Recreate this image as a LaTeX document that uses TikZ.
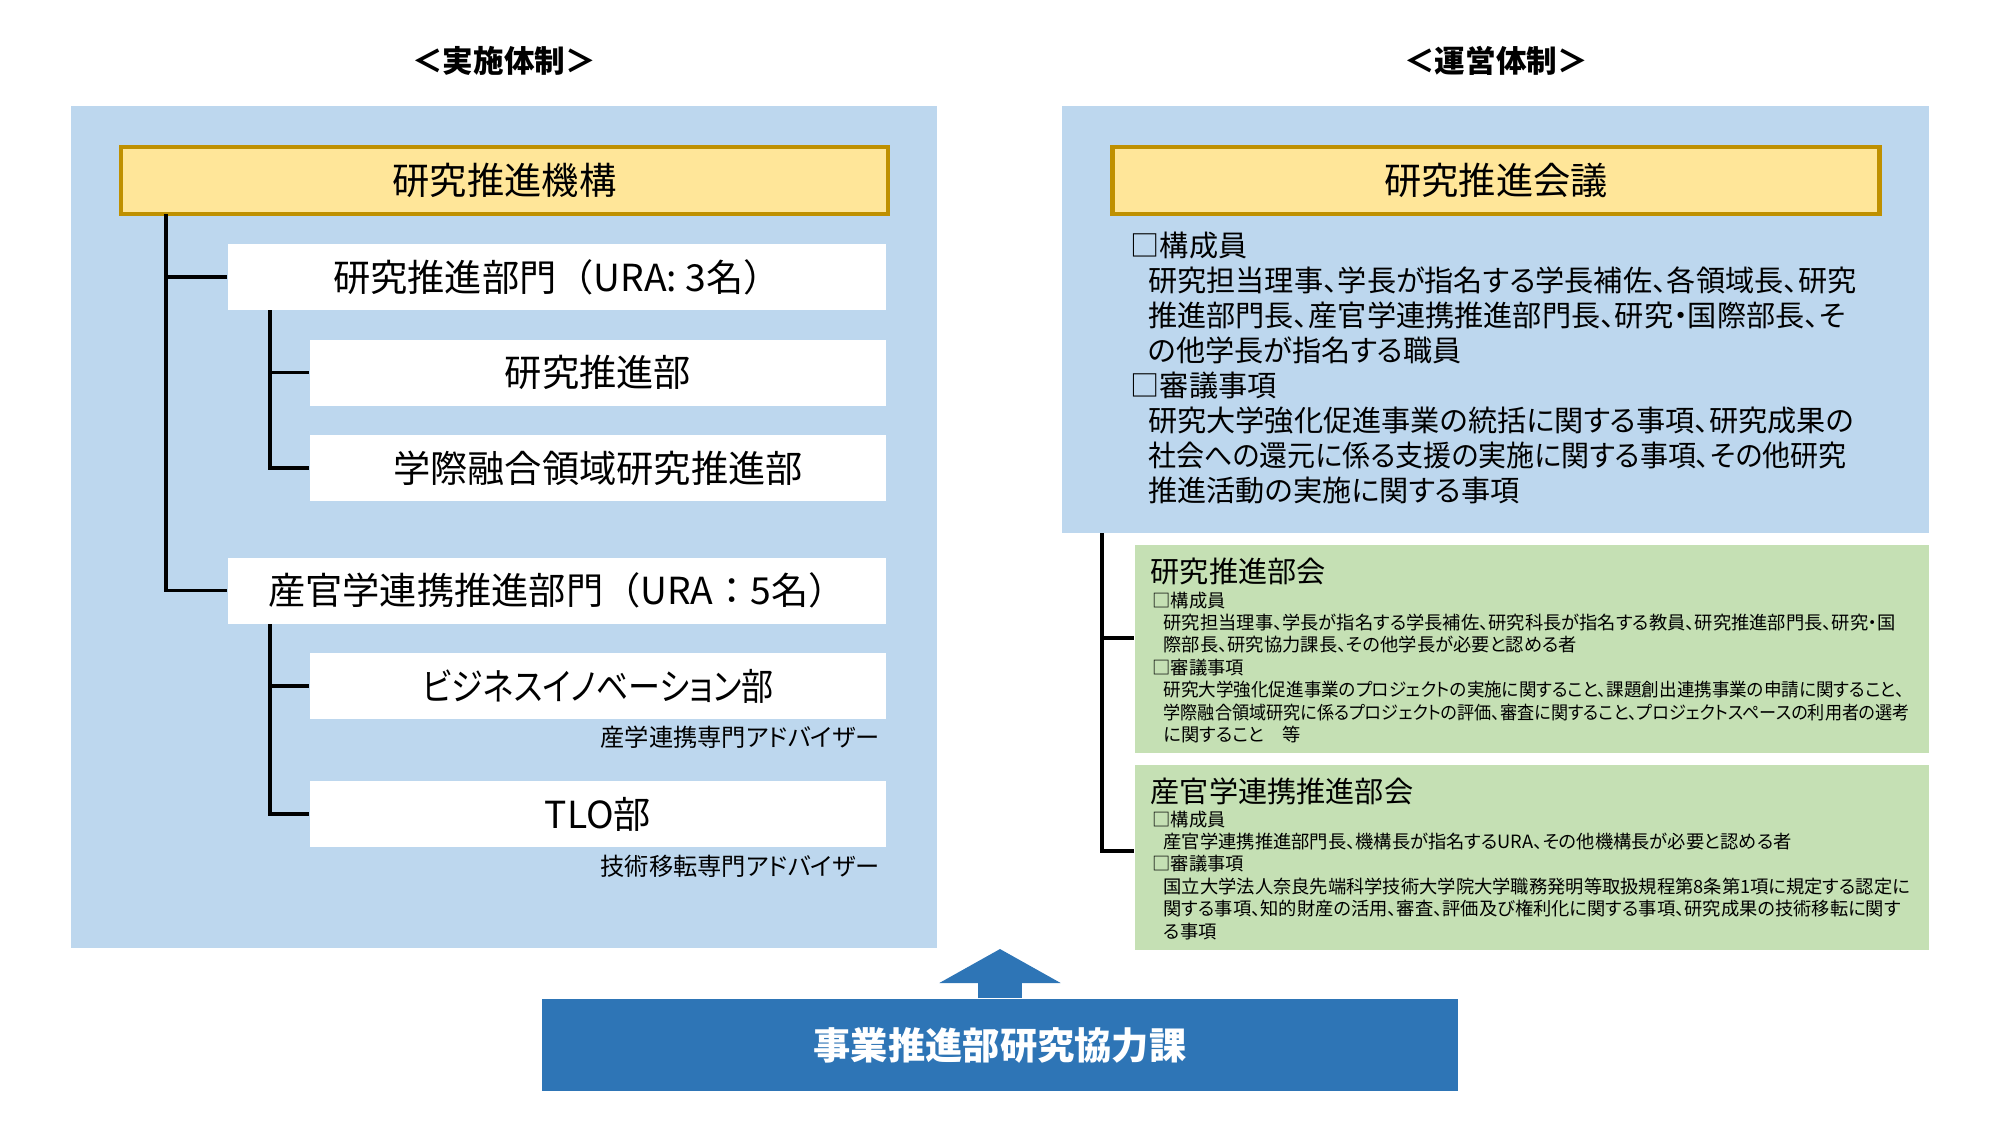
\documentclass[tikz,border=0pt]{standalone}
\usepackage{fontspec}
\setmainfont{Noto Sans CJK JP}[RawFeature=+palt]
\newfontfamily\jpzen{Noto Sans CJK JP}
\definecolor{aok}{HTML}{BDD7EE}
\definecolor{kik}{HTML}{FFE699}
\definecolor{kinwakuk}{HTML}{BF9000}
\definecolor{midorik}{HTML}{C5E0B4}
\definecolor{koiaok}{HTML}{2E75B6}
\usepackage{tikz}
\usetikzlibrary{positioning, arrows.meta}
\newcommand{\ind}{\hspace*{0.6em}}

\begin{document}
\begin{tikzpicture}[
    panel/.style={fill=aok,inner sep=0pt},
    kibox/.style={draw=kinwakuk,line width=1.2pt,fill=kik,minimum width=7.67cm,
          minimum height=0.67cm,font=\fontsize{10.6}{12}\selectfont},
    shirobox/.style={fill=white,minimum height=0.66cm,font=\fontsize{10.6}{12}\selectfont},
    midoribox/.style={fill=midorik,minimum width=7.94cm,inner sep=0pt},
    tree/.style={line width=1pt,black},
    honbun/.style={align=left,anchor=north west,inner sep=0pt}]
    \useasboundingbox (0,0) rectangle (20,-11.25);

    \node[font=\fontsize{8.7}{10}\selectfont\bfseries] (tl) at (5.04,-0.61) {＜実施体制＞};
    \node[font=\fontsize{8.7}{10}\selectfont\bfseries] (tr) at (14.96,-0.61) {＜運営体制＞};

    \node[panel,minimum width=8.66cm,minimum height=8.42cm] (jp) at (5.04,-5.27) {};
    \node[panel,minimum width=8.67cm,minimum height=4.27cm] (un) at (14.955,-3.195) {};

    \node[kibox] (kikou) at (5.045,-1.805) {研究推進機構};
    \node[kibox] (kaigi) at (14.96,-1.805) {研究推進会議};

    \node[shirobox,minimum width=6.58cm] (bu1) at (5.57,-2.77) {\jpzen 研究推進部門（URA: 3名）};
    \node[shirobox,minimum width=5.76cm] (ka1) at (5.98,-3.725) {研究推進部};
    \node[shirobox,minimum width=5.76cm] (ka2) at (5.98,-4.68) {学際融合領域研究推進部};
    \node[shirobox,minimum width=6.58cm] (bu2) at (5.57,-5.905) {\jpzen 産官学連携推進部門（URA：5名）};
    \node[shirobox,minimum width=5.76cm] (ka3) at (5.98,-6.86) {\scalebox{0.86}[1]{ビジネスイノベーション部}};
    \node[shirobox,minimum width=5.76cm] (ka4) at (5.98,-8.14) {TLO部};
    \node[anchor=east,inner sep=0pt,font=\fontsize{6.9}{8}\selectfont] (nt1) at (8.80,-7.37) {産学連携専門アドバイザー};
    \node[anchor=east,inner sep=0pt,font=\fontsize{6.9}{8}\selectfont] (nt2) at (8.80,-8.66) {技術移転専門アドバイザー};

    \coordinate (v1) at (1.66,-2.14);
    \coordinate (v2) at (2.70,-3.10);
    \coordinate (v3) at (2.70,-6.24);
    \coordinate (v4) at (11.02,-5.33);
    \draw[tree] (v1) |- (bu1.west);
    \draw[tree] (v1) |- (bu2.west);
    \draw[tree] (v2) |- (ka1.west);
    \draw[tree] (v2) |- (ka2.west);
    \draw[tree] (v3) |- (ka3.west);
    \draw[tree] (v3) |- (ka4.west);

    \node[honbun,font=\fontsize{8.3}{9.96}\selectfont] (b0) at (11.30,-2.31) {□構成員\\
      \ind 研究担当理事、学長が指名する学長補佐、各領域長、研究\\
      \ind 推進部門長、産官学連携推進部門長、研究・国際部長、そ\\
      \ind の他学長が指名する職員\\
      □審議事項\\
      \ind 研究大学強化促進事業の統括に関する事項、研究成果の\\
      \ind \scalebox{0.96}[1]{社会への還元に係る支援の実施に関する事項、その他研究}\\
      \ind 推進活動の実施に関する事項};

    \node[midoribox,minimum height=2.08cm] (g1) at (15.32,-6.49) {};
    \node[midoribox,minimum height=1.85cm] (g2) at (15.32,-8.575) {};
    \draw[tree] (v4) |- ([yshift=1.1mm]g1.west);
    \draw[tree] (v4) |- ([yshift=0.65mm]g2.west);

    \node[anchor=west,inner sep=0pt,font=\fontsize{8.3}{10}\selectfont] (h1) at (11.50,-5.71) {研究推進部会};
    \node[honbun,font=\fontsize{5.2}{6.38}\selectfont] (b1) at (11.52,-5.91) {□構成員\\
      \ind 研究担当理事、学長が指名する学長補佐、研究科長が指名する教員、研究推進部門長、研究・国\\
      \ind 際部長、研究協力課長、その他学長が必要と認める者\\
      □審議事項\\
      \ind \scalebox{0.96}[1]{研究大学強化促進事業のプロジェクトの実施に関すること、課題創出連携事業の申請に関すること、}\\
      \ind \scalebox{0.936}[1]{学際融合領域研究に係るプロジェクトの評価、審査に関すること、プロジェクトスペースの利用者の選考}\\
      \ind に関すること　等};

    \node[anchor=west,inner sep=0pt,font=\fontsize{8.3}{10}\selectfont] (h2) at (11.50,-7.91) {産官学連携推進部会};
    \node[honbun,font=\fontsize{5.2}{6.38}\selectfont] (b2) at (11.52,-8.10) {□構成員\\
      \ind 産官学連携推進部門長、機構長が指名するURA、その他機構長が必要と認める者\\
      □審議事項\\
      \ind 国立大学法人奈良先端科学技術大学院大学職務発明等取扱規程第8条第1項に規定する認定に\\
      \ind 関する事項、知的財産の活用、審査、評価及び権利化に関する事項、研究成果の技術移転に関す\\
      \ind る事項};

    \node[fill=koiaok,minimum width=9.16cm,minimum height=0.92cm,text=white,
          font=\fontsize{10.6}{12}\selectfont\bfseries] (bt) at (10.0,-10.45) {事業推進部研究協力課};
    \coordinate (tip) at (10.0,-9.49);
    \draw[koiaok,line width=0.44cm,-{Triangle[width=1.2cm,length=0.34cm]}] (bt.north) -- (tip);
\end{tikzpicture}
\end{document}
